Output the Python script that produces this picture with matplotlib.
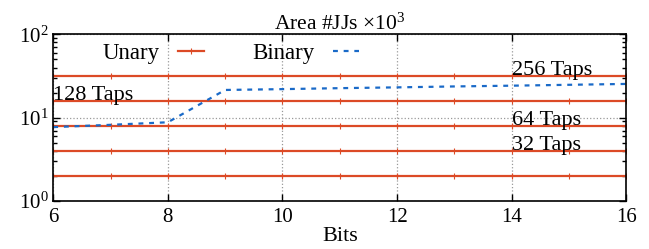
import matplotlib
matplotlib.use('Agg')
import matplotlib.pyplot as plt
from matplotlib.ticker import LogLocator, NullFormatter
import numpy as np

# data (area in #JJs x 10^3)
bits = [6, 7, 8, 9, 10, 11, 12, 13, 14, 15, 16]
binary = [7.7, 8.2, 8.8, 21.5, 22.0, 22.6, 23.1, 23.7, 24.2, 24.8, 25.4]
unary_taps = [16, 32, 64, 128, 256]
unary_area = [2, 4, 8, 16, 32]
tap_labels = ['128 Taps', '256 Taps', '64 Taps', '32 Taps']
tap_label_x = [6, 14, 14, 14]
tap_label_y = [16, 32, 8, 4]

plt.rcParams['font.family'] = ['Liberation Serif', 'DejaVu Serif']
plt.rcParams['mathtext.fontset'] = 'custom'
plt.rcParams['mathtext.rm'] = 'Liberation Serif'
plt.rcParams['mathtext.it'] = 'Liberation Serif:italic'

red = '#dc4a26'
blue = '#1a6ac8'

fig, ax = plt.subplots(figsize=(6.49, 2.49), dpi=100)
fig.subplots_adjust(left=0.082, right=0.965, top=0.862, bottom=0.193)

for i, a in enumerate(unary_area):
    ax.plot(bits, [a] * len(bits), color=red, lw=1.6, marker='|', ms=4,
            mew=0.8, label='Unary' if i == 0 else None)
ax.plot(bits, binary, color=blue, lw=1.6, ls=(0, (2.2, 2.6)), label='Binary')

for t, x, y in zip(tap_labels, tap_label_x, tap_label_y):
    ax.text(x, y * 1.03, t, fontsize=16, va='baseline', ha='left')

ax.set_yscale('log')
ax.set_ylim(1, 100)
ax.set_xlim(6, 16)
ax.set_xticks([6, 8, 10, 12, 14, 16])
ax.yaxis.set_minor_locator(LogLocator(base=10, subs=np.arange(2, 10)))
ax.yaxis.set_minor_formatter(NullFormatter())
ax.tick_params(which='both', direction='in', top=True, right=True,
               labelsize=15, width=1)
ax.tick_params(which='major', length=5)
ax.tick_params(which='minor', length=3)
ax.tick_params(axis='x', pad=5)
ax.grid(True, which='major', ls=':', color='#999999', lw=0.9)
for s in ax.spines.values():
    s.set_linewidth(1.2)

ax.set_title(r'Area #JJs $\times 10^3$', fontsize=15.5, pad=2)
ax.set_xlabel('Bits', fontsize=16, labelpad=0)
ax.legend(loc='upper left', bbox_to_anchor=(0.05, 1.07), ncol=2,
          frameon=False, markerfirst=False, fontsize=16.5, handlelength=1.15,
          handletextpad=0.8, columnspacing=2.1)

plt.savefig('out.png', dpi=100)
